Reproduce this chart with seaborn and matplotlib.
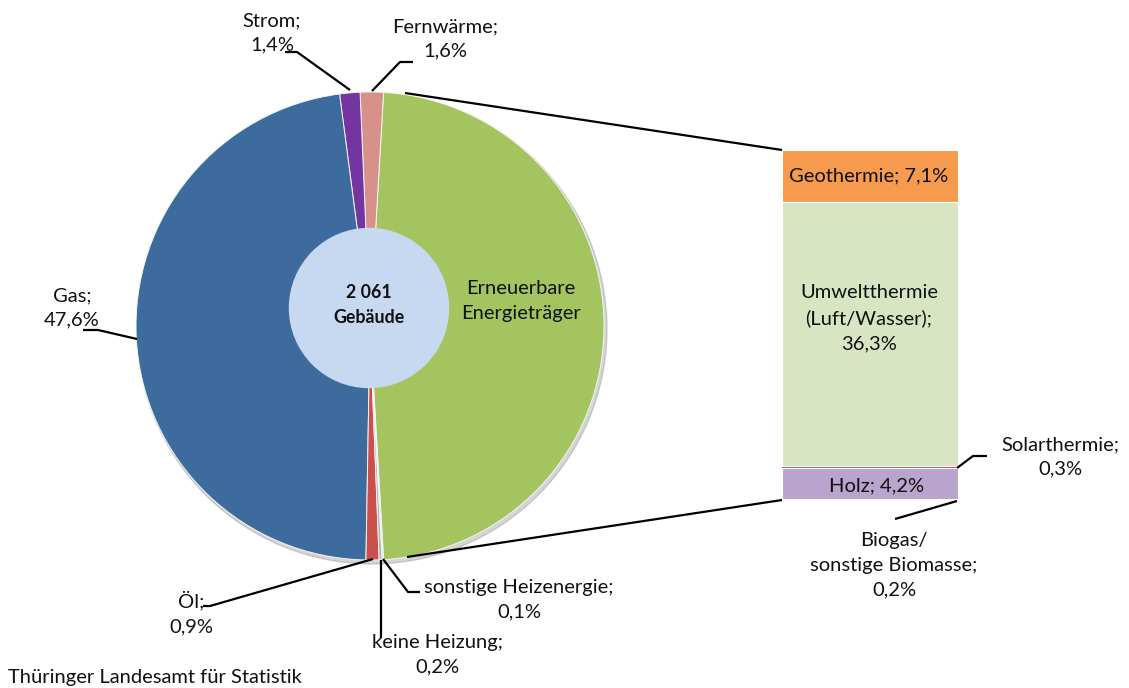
import matplotlib
matplotlib.use("Agg")
import matplotlib.pyplot as plt
import seaborn as sns
from matplotlib.patches import Circle

# ---------------- data ----------------
pie_labels = ["Erneuerbare\nEnergieträger", "Fernwärme", "Strom", "Gas", "Öl",
              "keine Heizung", "sonstige Heizenergie"]
pie_values = [48.1, 1.6, 1.4, 47.6, 0.9, 0.2, 0.1]
pie_colors = ["#A3C45F", "#D8918A", "#7434A2", "#3E6B9E", "#C9504D", "#B0B0B0", "#DDDDDD"]

bar_labels = ["Biogas/\nsonstige Biomasse", "Holz", "Solarthermie",
              "Umweltthermie\n(Luft/Wasser)", "Geothermie"]
bar_values = [0.2, 4.2, 0.3, 36.3, 7.1]
bar_colors = ["#8EC4D8", "#B8A4CD", "#E2475F", "#D8E5C2", "#F69A4D"]

center_text = "2 061\nGebäude"
source_text = "Thüringer Landesamt für Statistik"


def pct(v):
    return f"{v:.1f}".replace(".", ",") + "%"


# ---------------- style ----------------
sns.set_theme(style="white")
plt.rcParams["font.family"] = ["Lato", "DejaVu Sans"]
FS = 14.5

W, H = 1129, 688
fig = plt.figure(figsize=(W / 100, H / 100), dpi=100)
fig.patch.set_facecolor("white")


def Y(y):
    return H - y


# bar axes (drawn below the main axes)
bax = fig.add_axes([782 / W, Y(500) / H, 176 / W, 350 / H])
bax.set_zorder(0)
bottom = 0.0
for lab, v, c in zip(bar_labels, bar_values, bar_colors):
    lw = 0.8 if v > 1 else 0
    bax.bar(0, v, bottom=bottom, width=1.0, color=c, edgecolor="white", linewidth=lw)
    bottom += v
bax.set_xlim(-0.5, 0.5)
bax.set_ylim(0, sum(bar_values))
bax.axis("off")

# main axes in pixel coordinates
ax = fig.add_axes([0, 0, 1, 1])
ax.set_zorder(1)
ax.patch.set_visible(False)

cx, cy, r = 370, Y(326), 234
ax.add_patch(Circle((cx + 2, cy - 3), r + 1, color="#888888", alpha=0.35, zorder=0))
start = -pie_values[0] / sum(pie_values) * 360 / 2
ax.pie(pie_values, colors=pie_colors, startangle=start, counterclock=True,
       center=(cx, cy), radius=r,
       wedgeprops=dict(edgecolor="#f4f4f4", linewidth=0.7))
ax.add_patch(Circle((369, Y(308)), 79.5, color="#C6D9F1", zorder=5))
ax.text(369, Y(305), center_text, ha="center", va="center", fontsize=12.8,
        fontweight="bold", linespacing=1.55, color="#111111", zorder=6)

ax.set_xlim(0, W)
ax.set_ylim(0, H)
ax.set_aspect("auto")
ax.axis("off")

lk = dict(color="black", lw=1.6, solid_capstyle="butt", zorder=7)


def line(pts):
    ax.plot([p[0] for p in pts], [Y(p[1]) for p in pts], **lk)


def label(x, y, s):
    ax.text(x, Y(y), s, ha="center", va="center", fontsize=FS,
            linespacing=1.55, color="#111111", zorder=8)


# connectors pie -> bar
line([(405, 93), (782, 150)])
line([(407, 557), (782, 500)])

# pie labels
label(521, 301, pie_labels[0])
label(445, 39, f"{pie_labels[1]};\n{pct(pie_values[1])}")
line([(413, 62), (400, 62), (372, 91)])
label(272, 33, f"{pie_labels[2]};\n{pct(pie_values[2])}")
line([(285, 52), (297, 52), (350, 90)])
label(72, 308, f"{pie_labels[3]};\n{pct(pie_values[3])}")
line([(83, 330), (98, 330), (137, 339)])
label(191, 613, f"{pie_labels[4]};\n{pct(pie_values[4])}")
line([(203, 606), (210, 606), (373, 559)])
label(437, 655, f"{pie_labels[5]};\n{pct(pie_values[5])}")
line([(381, 560), (381, 638)])
label(519, 600, f"{pie_labels[6]};\n{pct(pie_values[6])}")
line([(383, 559), (408, 592), (420, 592)])

# bar labels
label(869, 176, f"{bar_labels[4]}; {pct(bar_values[4])}")
label(869, 318, f"{bar_labels[3]};\n{pct(bar_values[3])}")
label(877, 486, f"{bar_labels[1]}; {pct(bar_values[1])}")
label(1060, 457, f"{bar_labels[2]};\n{pct(bar_values[2])}")
line([(957, 468), (973, 456), (987, 456)])
label(894, 565, f"{bar_labels[0]};\n{pct(bar_values[0])}")
line([(957, 501), (895, 519)])

ax.text(8, Y(677), source_text, ha="left", va="center", fontsize=FS, color="#111111")

fig.savefig("out.png", dpi=100, facecolor="white")
